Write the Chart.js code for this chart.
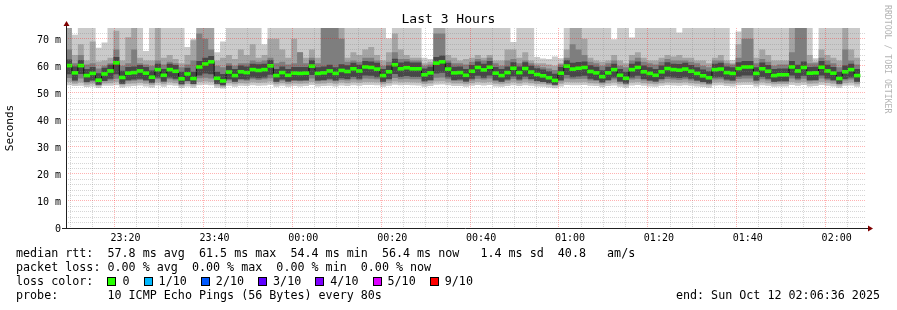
<!DOCTYPE html>
<html>
<head>
<meta charset="utf-8">
<title>Last 3 Hours</title>
<script src="https://cdn.jsdelivr.net/npm/chart.js@4.4.1/dist/chart.umd.min.js"></script>
<style>
  html, body { margin: 0; padding: 0; background: #fff; }
  #wrap { position: relative; width: 897px; height: 310px; overflow: hidden; }
  #chart { position: absolute; left: 0; top: 0; }
  #title {
    position: absolute; left: 0; top: 11px; width: 897px; text-align: center;
    font: 13px "DejaVu Sans Mono", monospace; line-height: 16px; color: #000;
  }
  .info {
    position: absolute; left: 16px; top: 246px; margin: 0;
    font: 11.7px "DejaVu Sans Mono", monospace; line-height: 14px;
    color: #000; white-space: pre;
  }
  .box {
    display: inline-block; width: 7px; height: 7px; border: 1px solid #000;
    vertical-align: -1px; margin-right: 6px;
  }
  #end {
    position: absolute; right: 17px; top: 288px;
    font: 11.7px "DejaVu Sans Mono", monospace; line-height: 14px; white-space: pre;
  }
  #credit {
    position: absolute; left: 883px; top: 5px; writing-mode: vertical-rl;
    font: 8.2px "DejaVu Sans Mono", monospace; line-height: 10px; color: #b4b4b4;
  }
</style>
</head>
<body>
<div id="wrap">
  <canvas id="chart" width="897" height="310"></canvas>
  <div id="title">Last 3 Hours</div>
  <pre class="info">median rtt:  57.8 ms avg  61.5 ms max  54.4 ms min  56.4 ms now   1.4 ms sd  40.8   am/s
packet loss: 0.00 % avg  0.00 % max  0.00 % min  0.00 % now
loss color:  <span class="box" style="background:#26ff00"></span>0  <span class="box" style="background:#00b8ff"></span>1/10  <span class="box" style="background:#0059ff"></span>2/10  <span class="box" style="background:#5e00ff"></span>3/10  <span class="box" style="background:#7e00ff"></span>4/10  <span class="box" style="background:#dd00ff"></span>5/10  <span class="box" style="background:#ff0000"></span>9/10
probe:       10 ICMP Echo Pings (56 Bytes) every 80s</pre>
  <div id="end">end: Sun Oct 12 02:06:36 2025</div>
  <div id="credit">RRDTOOL / TOBI OETIKER</div>
</div>

<script>
// ── data (ms), one sample every 80 s, first sample at 23:06:36 ─────────────
const startMinute = 6.6;        // minutes after 23:00
const stepMinutes = 80 / 60;

// median rtt
const medianMs = [
  60.1, 57.4, 60.1, 56.4, 57.2, 54.7, 57.0, 58.1, 61.1, 55.7,
  57.3, 57.5, 58.1, 57.3, 55.8, 58.6, 56.5, 58.6, 58.0, 55.2,
  57.0, 55.3, 59.6, 60.7, 61.5, 55.4, 54.4, 57.7, 56.4, 57.8,
  57.5, 58.6, 58.3, 58.6, 60.0, 56.4, 57.5, 56.5, 57.3, 57.2,
  57.3, 59.9, 57.2, 57.4, 58.1, 57.2, 58.3, 57.9, 58.9, 58.1,
  59.6, 59.4, 58.8, 56.4, 57.8, 60.4, 58.9, 59.3, 58.9, 58.9,
  56.7, 57.4, 61.0, 61.5, 58.8, 57.4, 57.5, 56.5, 58.0, 59.4,
  58.5, 59.5, 57.3, 56.4, 57.5, 59.1, 57.5, 59.0, 57.7, 56.8,
  56.3, 55.6, 54.6, 57.3, 59.9, 58.8, 59.1, 59.4, 57.9, 57.4,
  56.0, 57.4, 58.6, 56.5, 55.4, 58.6, 59.4, 57.8, 57.2, 56.5,
  57.8, 59.0, 58.6, 58.4, 58.8, 58.0, 57.2, 56.3, 55.6, 58.6,
  58.8, 57.5, 57.2, 59.0, 59.6, 59.6, 57.2, 58.9, 58.0, 56.4,
  56.7, 56.7, 59.6, 58.1, 59.4, 57.3, 57.4, 59.5, 58.1, 57.3,
  55.3, 57.8, 58.6, 56.4
];

// smoke: sorted pings, highest (10th) ... lowest (1st)
const ping10 = [
  80, 71.5, 80, 80, 80, 66.7, 68.6, 80, 80, 80,
  80, 80, 80, 65.5, 80, 80, 80, 80, 80, 80,
  67, 70, 80, 80, 80, 65, 69, 80, 80, 80,
  80, 80, 80, 68, 80, 80, 80, 80, 80, 80,
  80, 80, 80, 80, 80, 80, 80, 80, 80, 80,
  80, 80, 80, 80, 70.2, 80, 80, 80, 80, 80,
  63, 62.5, 80, 80, 80, 80, 80, 80, 80, 80,
  80, 80, 80, 80, 80, 68.8, 80, 80, 80, 63.3,
  62.7, 62.5, 63.5, 62.8, 80, 80, 80, 80, 80, 80,
  80, 80, 69.8, 80, 80, 70.5, 80, 80, 80, 80,
  80, 80, 80, 72.3, 80, 80, 80, 80, 80, 80,
  80, 80, 62.2, 72.7, 80, 80, 80, 80, 80, 80,
  80, 80, 80, 80, 80, 80, 62.8, 80, 80, 80,
  80, 80, 80, 80
];
const ping9 = [
  78, 64, 68, 62, 69, 61.6, 62, 63, 73, 62,
  70.6, 78, 63, 62, 62, 78, 63, 64, 62.5, 61,
  64, 69.5, 78, 78, 78, 62, 63, 64, 62.5, 66,
  64, 68, 63, 64, 70, 70, 66, 63, 70, 65,
  63, 66, 63, 78, 78, 78, 78, 63, 65, 64,
  66, 67, 64, 62, 65, 72, 66, 64, 63, 63,
  61, 61.5, 78, 78, 64, 63, 62, 62.5, 63, 64,
  63, 64, 62, 62, 66, 66, 63, 65, 62, 61,
  61, 60.5, 60, 61, 66, 74, 74, 70, 63, 62,
  61.5, 62, 64, 62, 61, 64, 65, 63, 62, 62,
  63, 64, 63.5, 64, 63, 63, 62, 62, 61, 63,
  64, 62, 61, 68, 78, 78, 63, 66, 64, 62,
  62, 62, 78, 78, 78, 64, 61.5, 66, 64, 63,
  62, 78, 66, 63
];
const ping8 = [
  66, 61, 64, 60.5, 61, 59, 60, 61, 66, 60,
  61, 66, 61, 60.5, 60, 62, 60.5, 61.5, 61, 59.5,
  60.5, 62, 72, 70, 66, 60, 59.5, 61, 60, 61,
  61, 62, 61.5, 62, 63, 61, 61.5, 60.5, 61, 65,
  61, 63, 61, 74, 74, 74, 70, 61.5, 62, 61.5,
  63, 63, 62, 60, 61.5, 65, 62.5, 62.5, 62, 62,
  60, 60.5, 72, 72, 62, 61, 61, 60.5, 61.5, 62.5,
  62, 63, 61, 60, 62, 62.5, 61, 62, 61, 60,
  59.5, 59, 58.5, 60.5, 63, 68, 66, 64, 61.5, 61,
  60, 61, 62, 60, 59.5, 62, 63, 61.5, 61, 60.5,
  61.5, 62.5, 62, 62, 62, 61.5, 61, 60, 59.5, 62,
  62, 61, 60.5, 63, 70, 70, 61, 62.5, 61.5, 60,
  60.5, 60.5, 65, 78, 78, 61, 61, 63, 62, 61,
  59.5, 66, 62, 60.5
];
const ping7 = [
  62.3, 59.8, 62.2, 58.8, 59.6, 57.3, 59.3, 60.4, 63.3, 58.2,
  59.6, 59.8, 60.3, 59.6, 58.3, 60.8, 58.8, 60.8, 60.3, 57.8,
  59.3, 57.8, 61.8, 63, 63.6, 57.8, 57, 60, 58.8, 60.1,
  59.8, 60.8, 60.6, 60.8, 62.2, 58.8, 59.8, 58.8, 59.6, 59.6,
  59.6, 62.1, 59.5, 59.8, 60.4, 59.5, 60.6, 60.2, 61.1, 60.4,
  61.8, 61.6, 61.1, 58.8, 60.1, 62.6, 61.2, 61.6, 61.2, 61.2,
  59, 59.7, 63.3, 63.8, 61.1, 59.7, 59.8, 58.8, 60.3, 61.6,
  60.8, 61.8, 59.6, 58.8, 59.8, 61.3, 59.8, 61.3, 60, 59.1,
  58.6, 58, 57.1, 59.6, 62.1, 61.1, 61.4, 61.6, 60.2, 59.7,
  58.4, 59.7, 60.8, 58.8, 57.8, 60.8, 61.6, 60.1, 59.5, 58.8,
  60.1, 61.3, 60.8, 60.7, 61.1, 60.3, 59.5, 58.6, 58, 60.8,
  61.1, 59.8, 59.5, 61.3, 61.8, 61.8, 59.5, 61.2, 60.3, 58.8,
  59, 59, 61.8, 60.4, 61.6, 59.6, 59.7, 61.8, 60.4, 59.6,
  57.8, 60.1, 60.8, 58.8
];
const ping4 = [
  56.9, 54.6, 57, 54, 54.6, 53, 54.4, 55.2, 56.9, 53.4,
  54.7, 54.9, 55.2, 54.7, 53.7, 55.7, 54.2, 55.7, 55.2, 53.2,
  54.4, 53.3, 56.4, 57.2, 56.9, 53.4, 52.8, 55, 54.1, 55.1,
  54.9, 55.7, 55.4, 55.7, 56.7, 54.1, 54.9, 54.2, 54.7, 54.6,
  54.7, 56.6, 54.6, 54.8, 55.2, 54.6, 55.4, 55.1, 55.9, 55.2,
  56.4, 56.3, 55.8, 54.1, 55.1, 57, 55.9, 56.2, 55.9, 55.9,
  54.3, 54.8, 57.2, 57.4, 55.8, 54.8, 54.9, 54.2, 55.2, 56.3,
  55.6, 56.4, 54.7, 54.1, 54.9, 56.1, 54.9, 56, 55.1, 54.4,
  54, 53.6, 53, 54.7, 56.6, 55.8, 56.1, 56.3, 55.2, 54.8,
  53.8, 54.8, 55.7, 54.2, 53.5, 55.7, 56.3, 55.1, 54.6, 54.2,
  55.1, 56, 55.7, 55.5, 55.8, 55.2, 54.6, 54, 53.5, 55.7,
  55.8, 54.9, 54.6, 56, 56.4, 56.4, 54.6, 55.9, 55.2, 54.1,
  54.3, 54.3, 56.4, 55.3, 56.3, 54.7, 54.8, 56.4, 55.3, 54.7,
  53.4, 55.1, 55.7, 54.1
];
const ping3 = [
  55.5, 54.2, 55.3, 53.8, 54.2, 53, 54.3, 54.6, 55.2, 53.4,
  54.3, 54.5, 54.8, 54.3, 53.6, 55, 54, 55, 54.6, 53.2,
  54.2, 53.3, 55.4, 55.6, 55.3, 53.3, 52.8, 54.6, 54, 54.7,
  54.5, 55, 54.8, 55, 55.4, 54, 54.5, 54, 54.4, 54.3,
  54.4, 55.3, 54.3, 54.4, 54.7, 54.3, 54.8, 54.6, 55, 54.7,
  55.3, 55.2, 55, 54, 54.6, 55.5, 55, 55.2, 55, 55,
  54.1, 54.4, 55.6, 55.7, 55, 54.4, 54.5, 54, 54.6, 55.2,
  54.9, 55.3, 54.3, 54, 54.5, 55.1, 54.5, 55, 54.6, 54.2,
  54, 53.6, 53, 54.3, 55.3, 55, 55.1, 55.2, 54.6, 54.4,
  53.8, 54.4, 54.9, 54, 53.5, 54.9, 55.2, 54.6, 54.3, 54,
  54.6, 55.1, 54.9, 54.8, 55, 54.6, 54.3, 53.9, 53.5, 54.9,
  55, 54.5, 54.3, 55.1, 55.3, 55.3, 54.3, 55, 54.6, 54,
  54.1, 54.1, 55.3, 54.7, 55.2, 54.3, 54.4, 55.3, 54.7, 54.3,
  53.4, 54.6, 54.9, 54
];
const ping2 = [
  54, 53.4, 53.8, 53, 53.4, 52.5, 53.5, 53.6, 54, 52.8,
  53.4, 53.5, 53.7, 53.4, 52.9, 53.8, 53.2, 53.9, 53.6, 52.6,
  53.3, 52.7, 54, 54.2, 54, 52.7, 52.3, 53.6, 53.2, 53.6,
  53.5, 53.9, 53.7, 53.8, 54.2, 53.2, 53.6, 53.2, 53.5, 53.4,
  53.5, 54, 53.4, 53.5, 53.7, 53.4, 53.8, 53.6, 53.9, 53.7,
  54, 54, 53.9, 53.2, 53.6, 54.2, 53.9, 54, 53.9, 53.8,
  53.3, 53.5, 54.2, 54.3, 53.9, 53.5, 53.5, 53.2, 53.6, 54,
  53.8, 54, 53.4, 53.2, 53.5, 53.9, 53.5, 53.9, 53.6, 53.3,
  53.2, 52.9, 52.5, 53.4, 54, 53.9, 53.9, 54, 53.6, 53.5,
  53, 53.5, 53.8, 53.2, 52.8, 53.8, 54, 53.6, 53.4, 53.2,
  53.6, 53.9, 53.8, 53.7, 53.9, 53.6, 53.4, 53.1, 52.8, 53.8,
  53.9, 53.5, 53.4, 53.9, 54, 54, 53.4, 53.9, 53.6, 53.2,
  53.3, 53.3, 54, 53.7, 54, 53.4, 53.5, 54, 53.7, 53.4,
  52.7, 53.6, 53.8, 53.2
];
const ping1 = [
  52.8, 52.5, 52.6, 52.2, 52.4, 51.8, 52.6, 52.6, 52.8, 52,
  52.4, 52.5, 52.7, 52.4, 52, 52.7, 52.3, 52.8, 52.6, 51.8,
  52.4, 51.9, 52.8, 53, 52.8, 51.9, 51.6, 52.6, 52.3, 52.6,
  52.5, 52.8, 52.6, 52.7, 53, 52.3, 52.6, 52.3, 52.5, 52.4,
  52.5, 52.9, 52.4, 52.5, 52.6, 52.4, 52.7, 52.5, 52.8, 52.6,
  52.9, 52.9, 52.8, 52.3, 52.6, 53, 52.8, 52.9, 52.8, 52.7,
  52.3, 52.5, 53, 53.1, 52.8, 52.5, 52.5, 52.3, 52.6, 52.9,
  52.7, 52.9, 52.4, 52.3, 52.5, 52.8, 52.5, 52.8, 52.6, 52.4,
  52.3, 52, 51.7, 52.4, 52.9, 52.8, 52.8, 52.9, 52.6, 52.5,
  52.1, 52.5, 52.7, 52.3, 51.9, 52.7, 52.9, 52.6, 52.4, 52.3,
  52.6, 52.8, 52.7, 52.6, 52.8, 52.6, 52.4, 52.2, 51.9, 52.7,
  52.8, 52.5, 52.4, 52.8, 52.9, 52.9, 52.4, 52.8, 52.6, 52.3,
  52.4, 52.4, 52.9, 52.6, 52.9, 52.4, 52.5, 52.9, 52.6, 52.4,
  51.9, 52.6, 52.7, 52.3
];

// axis ticks
const yTickValues = [0, 2, 4, 6, 8, 10, 12, 14, 16, 18, 20, 22, 24, 26, 28, 30, 32, 34, 36,
  38, 40, 42, 44, 46, 48, 50, 52, 54, 56, 58, 60, 62, 64, 66, 68, 70, 72];
const xTickMinutes = [10, 15, 20, 25, 30, 35, 40, 45, 50, 55, 60, 65, 70, 75, 80, 85, 90, 95,
  100, 105, 110, 115, 120, 125, 130, 135, 140, 145, 150, 155, 160, 165, 170, 175, 180, 185];

// ── colours ───────────────────────────────────────────────────────────────
const COLORS = {
  smoke: ['#cacaca', '#a4a4a4', '#7e7e7e', '#474747'],
  median: '#26ff00',
  medianLine: '#101010',
  gridMajor: 'rgba(255, 0, 0, 0.3)',
  gridMinor: 'rgba(128, 128, 128, 0.32)',
  axis: '#202020',
  arrow: '#7f0000',
  text: '#000',
};

const FONT = "'DejaVu Sans Mono', monospace";

// ── helpers ───────────────────────────────────────────────────────────────
const xAt = i => startMinute + i * stepMinutes;

// stepped series: every sample holds until the next one
function stepSeries(values) {
  const pts = values.map((v, i) => ({ x: xAt(i), y: v }));
  pts.push({ x: xAt(values.length), y: values[values.length - 1] });
  return pts;
}

function clockLabel(min) {
  const h = (23 + Math.floor(min / 60)) % 24;
  const m = min % 60;
  return String(h).padStart(2, '0') + ':' + String(m).padStart(2, '0');
}

function band(hi, lo, color, order, loIndex) {
  return [
    {
      data: stepSeries(hi), stepped: true, fill: { target: loIndex },
      backgroundColor: color, borderColor: 'transparent', borderWidth: 0,
      pointRadius: 0, order,
    },
    {
      data: stepSeries(lo), stepped: true, fill: false,
      borderColor: 'transparent', borderWidth: 0, pointRadius: 0, order,
    },
  ];
}

// ── axes + arrows like rrdtool ────────────────────────────────────────────
const rrdAxes = {
  id: 'rrdAxes',
  afterDraw(chart) {
    const { ctx, chartArea: a } = chart;
    ctx.save();
    ctx.strokeStyle = COLORS.axis;
    ctx.lineWidth = 1;
    ctx.beginPath();
    ctx.moveTo(a.left - 4, a.bottom + 0.5);
    ctx.lineTo(a.right + 3, a.bottom + 0.5);
    ctx.moveTo(a.left + 0.5, a.bottom + 1);
    ctx.lineTo(a.left + 0.5, a.top - 3);
    ctx.stroke();

    ctx.fillStyle = COLORS.arrow;
    ctx.beginPath();
    ctx.moveTo(a.left + 0.5, a.top - 7);
    ctx.lineTo(a.left - 2.5, a.top - 2);
    ctx.lineTo(a.left + 3.5, a.top - 2);
    ctx.closePath();
    ctx.fill();
    ctx.beginPath();
    ctx.moveTo(a.right + 7, a.bottom + 0.5);
    ctx.lineTo(a.right + 2, a.bottom - 2.5);
    ctx.lineTo(a.right + 2, a.bottom + 3.5);
    ctx.closePath();
    ctx.fill();
    ctx.restore();
  },
};

// ── chart ─────────────────────────────────────────────────────────────────
const datasets = [
  {
    type: 'bar',
    data: medianMs.map((v, i) => ({ x: xAt(i) + stepMinutes / 2, y: [v - 0.55, v + 0.55] })),
    backgroundColor: COLORS.median,
    borderWidth: 0,
    barPercentage: 1,
    categoryPercentage: 1,
    order: 0,
  },
  {
    data: stepSeries(medianMs), stepped: true, fill: false,
    borderColor: COLORS.medianLine, borderWidth: 1, pointRadius: 0, order: 1,
  },
  ...band(ping7, ping4, COLORS.smoke[3], 2, 3),
  ...band(ping8, ping3, COLORS.smoke[2], 3, 5),
  ...band(ping9, ping2, COLORS.smoke[1], 4, 7),
  ...band(ping10, ping1, COLORS.smoke[0], 5, 9),
];

new Chart(document.getElementById('chart'), {
  type: 'line',
  data: { datasets },
  plugins: [rrdAxes],
  options: {
    responsive: false,
    animation: false,
    events: [],
    layout: { padding: { left: 0, right: 31, top: 28, bottom: 62 } },
    plugins: {
      legend: { display: false },
      tooltip: { enabled: false },
    },
    scales: {
      x: {
        type: 'linear',
        min: startMinute,
        max: startMinute + 180,
        offset: false,
        afterBuildTicks: s => { s.ticks = xTickMinutes.map(v => ({ value: v })); },
        afterFit: s => { s.height = 20; },
        ticks: {
          autoSkip: false, maxRotation: 0, minRotation: 0, padding: 4,
          color: COLORS.text, font: { family: FONT, size: 10 },
          callback: v => (v % 20 === 0 ? clockLabel(v) : ''),
        },
        grid: {
          z: 1, drawTicks: false,
          color: c => (c.tick && c.tick.value % 20 === 0 ? COLORS.gridMajor : COLORS.gridMinor),
        },
        border: { display: false, dash: [1, 1] },
      },
      y: {
        min: 0,
        max: 74,
        afterBuildTicks: s => { s.ticks = yTickValues.map(v => ({ value: v })); },
        afterFit: s => { s.width = 66; },
        ticks: {
          autoSkip: false, padding: 5, labelOffset: 1.5,
          color: COLORS.text, font: { family: FONT, size: 10 },
          callback: v => (v % 10 === 0 ? (v === 0 ? '0' : v + ' m') : ''),
        },
        grid: {
          z: 1, drawTicks: false,
          color: c => (c.tick && c.tick.value % 10 === 0 ? COLORS.gridMajor : COLORS.gridMinor),
        },
        border: { display: false, dash: [1, 1] },
        title: {
          display: true, text: 'Seconds', color: COLORS.text,
          font: { family: FONT, size: 11 }, padding: { top: 4, bottom: 0 },
        },
      },
    },
  },
});
</script>
</body>
</html>
